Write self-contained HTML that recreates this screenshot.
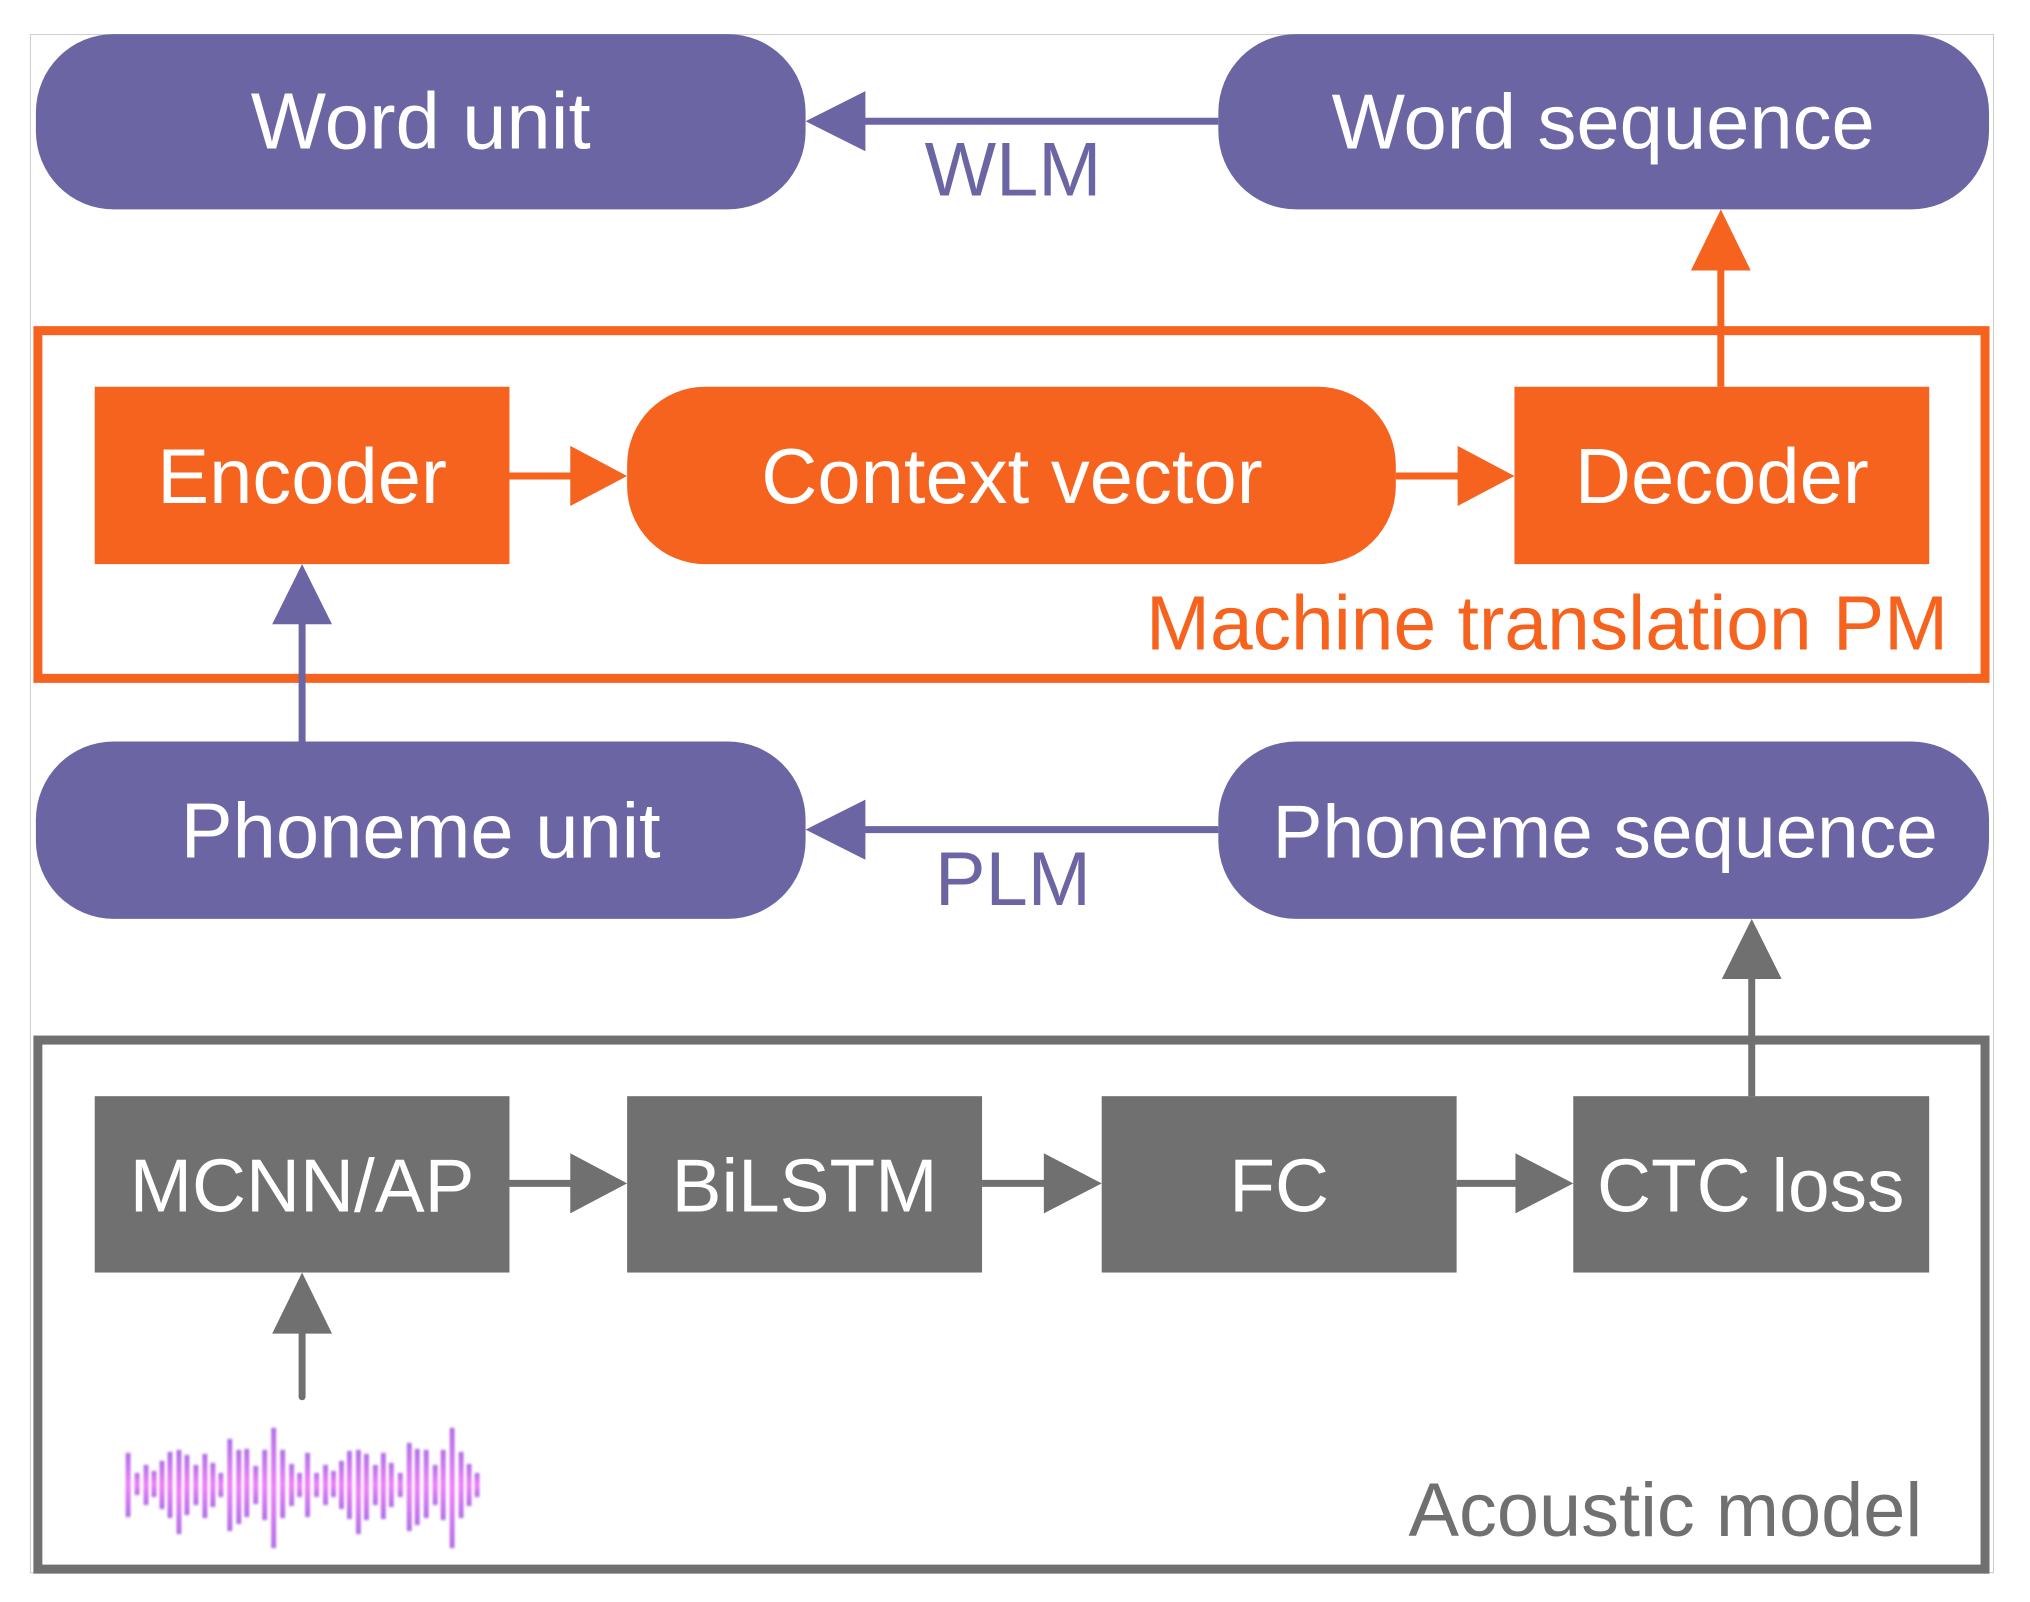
<!DOCTYPE html>
<html><head><meta charset="utf-8"><style>
html,body{margin:0;padding:0;background:#fff;}
svg{display:block;}
text{font-family:"Liberation Sans",sans-serif;}
</style></head><body>
<svg width="2030" height="1602" viewBox="0 0 2030 1602" xmlns="http://www.w3.org/2000/svg">
<defs>
<linearGradient id="wg" x1="0" y1="0" x2="0" y2="1">
<stop offset="0" stop-color="#b070e8"/><stop offset="0.5" stop-color="#f080f8"/><stop offset="1" stop-color="#b070e8"/>
</linearGradient>
<filter id="bl"><feGaussianBlur stdDeviation="1.2"/></filter>
</defs>
<g transform="scale(0.997,1.002)">
<rect x="30.5" y="34.5" width="1969" height="1535" fill="none" stroke="#cccccc" stroke-width="1"/>

<rect x="36" y="34" width="772" height="175" rx="78" fill="#6c65a3"/>
<text x="422" y="148" font-size="80" fill="#fff" text-anchor="middle">Word unit</text>
<rect x="1222" y="34" width="773" height="175" rx="78" fill="#6c65a3"/>
<text x="1608" y="148" font-size="78" fill="#fff" text-anchor="middle">Word sequence</text>
<line x1="1222" y1="121" x2="860" y2="121" stroke="#6c65a3" stroke-width="7"/>
<polygon points="808,121 868,91 868,151" fill="#6c65a3"/>
<text x="1016" y="195" font-size="76" fill="#6c65a3" text-anchor="middle">WLM</text>

<rect x="38" y="330" width="1953" height="347" fill="none" stroke="#f5631e" stroke-width="9"/>
<rect x="95" y="386" width="416" height="177" fill="#f5631e"/>
<text x="303" y="502" font-size="78" fill="#fff" text-anchor="middle">Encoder</text>
<rect x="629" y="386" width="771" height="177" rx="78" fill="#f5631e"/>
<text x="1015" y="502" font-size="78" fill="#fff" text-anchor="middle">Context vector</text>
<rect x="1519" y="386" width="416" height="177" fill="#f5631e"/>
<text x="1727" y="502" font-size="78" fill="#fff" text-anchor="middle">Decoder</text>
<line x1="511" y1="475" x2="575" y2="475" stroke="#f5631e" stroke-width="7"/>
<polygon points="629,475 572,445 572,505" fill="#f5631e"/>
<line x1="1400" y1="475" x2="1465" y2="475" stroke="#f5631e" stroke-width="7"/>
<polygon points="1519,475 1462,445 1462,505" fill="#f5631e"/>
<line x1="1726" y1="386" x2="1726" y2="265" stroke="#f5631e" stroke-width="7"/>
<polygon points="1726,209 1696,270 1756,270" fill="#f5631e"/>
<text x="1954" y="648" font-size="77" fill="#f5631e" text-anchor="end">Machine translation PM</text>

<rect x="36" y="740" width="772" height="177" rx="78" fill="#6c65a3"/>
<text x="422" y="856" font-size="78" fill="#fff" text-anchor="middle">Phoneme unit</text>
<rect x="1222" y="740" width="773" height="177" rx="78" fill="#6c65a3"/>
<text x="1610" y="856" font-size="75" fill="#fff" text-anchor="middle">Phoneme sequence</text>
<line x1="1222" y1="828" x2="860" y2="828" stroke="#6c65a3" stroke-width="7"/>
<polygon points="808,828 868,798 868,858" fill="#6c65a3"/>
<text x="1016" y="903" font-size="76" fill="#6c65a3" text-anchor="middle">PLM</text>
<line x1="303" y1="740" x2="303" y2="618" stroke="#6c65a3" stroke-width="7"/>
<polygon points="303,563 273,623 333,623" fill="#6c65a3"/>

<rect x="38" y="1038" width="1953" height="528" fill="none" stroke="#707070" stroke-width="9"/>
<rect x="95" y="1094" width="416" height="176" fill="#707070"/>
<text x="303" y="1209" font-size="75" fill="#fff" text-anchor="middle">MCNN/AP</text>
<rect x="629" y="1094" width="356" height="176" fill="#707070"/>
<text x="807" y="1209" font-size="75" fill="#fff" text-anchor="middle">BiLSTM</text>
<rect x="1105" y="1094" width="356" height="176" fill="#707070"/>
<text x="1283" y="1209" font-size="75" fill="#fff" text-anchor="middle">FC</text>
<rect x="1578" y="1094" width="357" height="176" fill="#707070"/>
<text x="1756" y="1209" font-size="75" fill="#fff" text-anchor="middle">CTC loss</text>
<line x1="511" y1="1181" x2="575" y2="1181" stroke="#707070" stroke-width="7"/>
<polygon points="629,1181 572,1151 572,1211" fill="#707070"/>
<line x1="985" y1="1181" x2="1050" y2="1181" stroke="#707070" stroke-width="7"/>
<polygon points="1105,1181 1047,1151 1047,1211" fill="#707070"/>
<line x1="1461" y1="1181" x2="1522" y2="1181" stroke="#707070" stroke-width="7"/>
<polygon points="1578,1181 1520,1151 1520,1211" fill="#707070"/>
<line x1="1757" y1="1094" x2="1757" y2="972" stroke="#707070" stroke-width="7"/>
<polygon points="1757,917 1727,977 1787,977" fill="#707070"/>
<line x1="303" y1="1394" x2="303" y2="1325" stroke="#707070" stroke-width="7" stroke-linecap="round"/>
<polygon points="303,1270 273,1331 333,1331" fill="#707070"/>
<text x="1928" y="1533" font-size="76" fill="#707070" text-anchor="end">Acoustic model</text>

<g fill="url(#wg)" filter="url(#bl)">
<rect x="126" y="1450" width="5" height="64"/>
<rect x="135" y="1470" width="5" height="22"/>
<rect x="144" y="1462" width="5" height="40"/>
<rect x="152" y="1468" width="5" height="26"/>
<rect x="160" y="1458" width="5" height="48"/>
<rect x="168" y="1449" width="5" height="66"/>
<rect x="177" y="1447" width="5" height="84"/>
<rect x="185" y="1452" width="5" height="60"/>
<rect x="194" y="1462" width="5" height="40"/>
<rect x="203" y="1451" width="5" height="64"/>
<rect x="211" y="1460" width="5" height="44"/>
<rect x="219" y="1470" width="5" height="24"/>
<rect x="228" y="1436" width="5" height="92"/>
<rect x="237" y="1447" width="5" height="74"/>
<rect x="245" y="1446" width="5" height="68"/>
<rect x="254" y="1463" width="5" height="38"/>
<rect x="263" y="1447" width="5" height="70"/>
<rect x="272" y="1425" width="5" height="120"/>
<rect x="281" y="1447" width="5" height="68"/>
<rect x="290" y="1461" width="5" height="42"/>
<rect x="298" y="1470" width="5" height="24"/>
<rect x="306" y="1450" width="5" height="64"/>
<rect x="315" y="1470" width="5" height="24"/>
<rect x="324" y="1462" width="5" height="40"/>
<rect x="332" y="1468" width="5" height="26"/>
<rect x="340" y="1458" width="5" height="48"/>
<rect x="348" y="1448" width="5" height="68"/>
<rect x="357" y="1447" width="5" height="84"/>
<rect x="365" y="1451" width="5" height="66"/>
<rect x="374" y="1462" width="5" height="40"/>
<rect x="382" y="1450" width="5" height="66"/>
<rect x="390" y="1460" width="5" height="44"/>
<rect x="399" y="1470" width="5" height="24"/>
<rect x="408" y="1440" width="5" height="88"/>
<rect x="416" y="1446" width="5" height="76"/>
<rect x="425" y="1447" width="5" height="68"/>
<rect x="434" y="1462" width="5" height="40"/>
<rect x="442" y="1447" width="5" height="70"/>
<rect x="451" y="1425" width="5" height="120"/>
<rect x="460" y="1449" width="5" height="66"/>
<rect x="468" y="1461" width="5" height="42"/>
<rect x="476" y="1470" width="5" height="24"/>
</g>
</g>
</svg>
</body></html>
